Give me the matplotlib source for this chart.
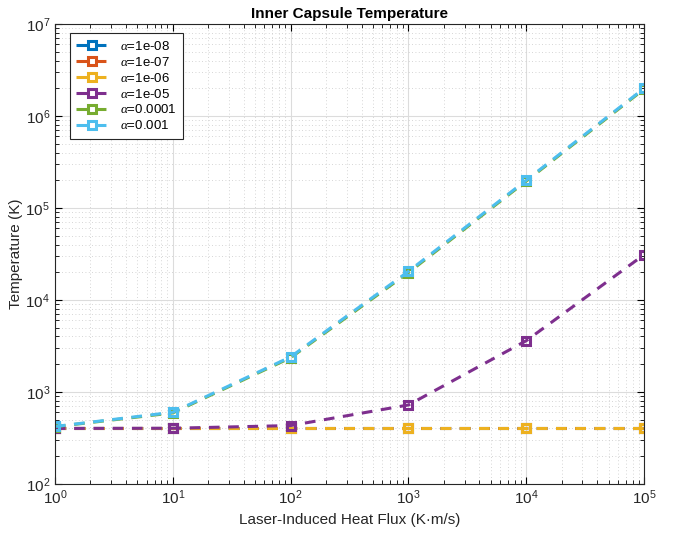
import matplotlib
matplotlib.use("Agg")
import matplotlib.pyplot as plt

plt.rcParams['font.family'] = ['Liberation Sans', 'DejaVu Sans']
plt.rcParams['mathtext.fontset'] = 'custom'
plt.rcParams['mathtext.rm'] = 'Liberation Sans'
plt.rcParams['mathtext.it'] = 'Liberation Serif:italic'

flux = [1, 10, 100, 1000, 10000, 100000]
# temperature (K) per absorption coefficient
temp_1e8 = [400, 400, 400, 400, 400, 400]
temp_1e7 = [400, 400, 400, 400, 400, 400]
temp_1e6 = [400, 400, 400, 400, 400, 400]
temp_1e5 = [400, 402, 430, 720, 3600, 31000]
temp_1e4 = [418, 590, 2350, 19800, 196000, 1960000]
temp_1e3 = [420, 600, 2400, 20400, 200400, 2000400]

labels = ['1e-08', '1e-07', '1e-06', '1e-05', '0.0001', '0.001']
colors = ['#0072BD', '#D95319', '#EDB120', '#7E2F8E', '#77AC30', '#4DBEEE']

fig = plt.figure(figsize=(6.78, 5.34), dpi=100)
ax = fig.add_axes([0.081, 0.094, 0.869, 0.861])

series = [temp_1e8, temp_1e7, temp_1e6, temp_1e5, temp_1e4, temp_1e3]
for y, lab, c in zip(series, labels, colors):
    ax.plot(flux, y, color=c, linestyle=(0, (3.5, 2.8)), linewidth=2.2,
            marker='s', markersize=5.5, markerfacecolor='none',
            markeredgewidth=2.2, label=r'$\alpha$=' + lab)

ax.set_xscale('log')
ax.set_yscale('log')
ax.set_xlim(1, 1e5)
ax.set_ylim(1e2, 1e7)
ax.grid(True, which='major', color='#dcdcdc', linewidth=0.8)
ax.grid(True, which='minor', color='#c8c8c8', linestyle=(0, (1, 3)), linewidth=0.6)
ax.set_axisbelow(True)
ax.tick_params(which='both', direction='in', top=True, right=True, labelsize=11,
               labelcolor='#262626')
ax.tick_params(which='major', length=5)
ax.tick_params(which='minor', length=3)
for s in ax.spines.values():
    s.set_linewidth(0.8)
    s.set_color('#262626')

ax.set_xlabel('Laser-Induced Heat Flux (K·m/s)', fontsize=11, color='#262626')
ax.set_ylabel('Temperature (K)', fontsize=11, color='#262626', labelpad=2)
ax.set_title('Inner Capsule Temperature', fontsize=11, fontweight='bold', pad=4)

leg = ax.legend(loc='upper left', fontsize=9.5, fancybox=False, framealpha=1,
                edgecolor='#262626', borderpad=0.5, labelspacing=0.22,
                handlelength=2.4, handletextpad=0.9, borderaxespad=0,
                bbox_to_anchor=(0.025, 0.98))
leg.get_frame().set_linewidth(0.8)

fig.savefig('out.png', dpi=100)
